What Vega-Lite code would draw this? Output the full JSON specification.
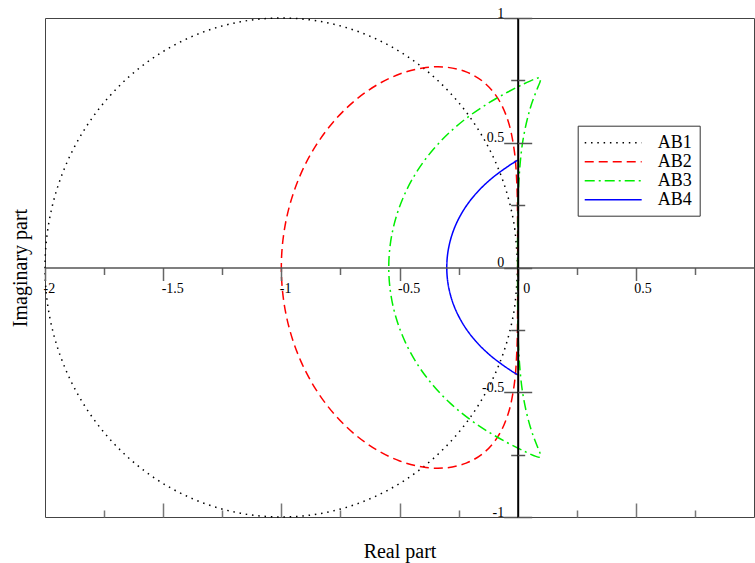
{
 "$schema": "https://vega.github.io/schema/vega-lite/v6.json",
 "width": 709, "height": 499,
 "autosize": {"type": "none"},
 "padding": {"left": 45, "top": 18, "right": 1, "bottom": 46},
 "background": "white",
 "config": {
  "view": {"stroke": "#444", "strokeWidth": 1},
  "axis": {"grid": false, "labelFont": "Liberation Serif", "titleFont": "Liberation Serif"},
  "font": "Liberation Serif"
 },
 "resolve": {"axis": {"x": "independent", "y": "independent"}},
 "layer": [
  {
   "data": {"values": [
    {"s":"AB1","i":0,"x":0,"y":0},{"s":"AB1","i":1,"x":-0.0152,"y":0.1736},{"s":"AB1","i":2,"x":-0.0603,"y":0.342},{"s":"AB1","i":3,"x":-0.134,"y":0.5},{"s":"AB1","i":4,"x":-0.234,"y":0.6428},{"s":"AB1","i":5,"x":-0.3572,"y":0.766},{"s":"AB1","i":6,"x":-0.5,"y":0.866},{"s":"AB1","i":7,"x":-0.658,"y":0.9397},{"s":"AB1","i":8,"x":-0.8264,"y":0.9848},{"s":"AB1","i":9,"x":-1,"y":1},{"s":"AB1","i":10,"x":-1.1736,"y":0.9848},{"s":"AB1","i":11,"x":-1.342,"y":0.9397},{"s":"AB1","i":12,"x":-1.5,"y":0.866},{"s":"AB1","i":13,"x":-1.6428,"y":0.766},{"s":"AB1","i":14,"x":-1.766,"y":0.6428},{"s":"AB1","i":15,"x":-1.866,"y":0.5},{"s":"AB1","i":16,"x":-1.9397,"y":0.342},{"s":"AB1","i":17,"x":-1.9848,"y":0.1736},{"s":"AB1","i":18,"x":-2,"y":0},{"s":"AB1","i":19,"x":-1.9848,"y":-0.1736},{"s":"AB1","i":20,"x":-1.9397,"y":-0.342},{"s":"AB1","i":21,"x":-1.866,"y":-0.5},{"s":"AB1","i":22,"x":-1.766,"y":-0.6428},{"s":"AB1","i":23,"x":-1.6428,"y":-0.766},{"s":"AB1","i":24,"x":-1.5,"y":-0.866},{"s":"AB1","i":25,"x":-1.342,"y":-0.9397},{"s":"AB1","i":26,"x":-1.1736,"y":-0.9848},{"s":"AB1","i":27,"x":-1,"y":-1},{"s":"AB1","i":28,"x":-0.8264,"y":-0.9848},{"s":"AB1","i":29,"x":-0.658,"y":-0.9397},{"s":"AB1","i":30,"x":-0.5,"y":-0.866},{"s":"AB1","i":31,"x":-0.3572,"y":-0.766},{"s":"AB1","i":32,"x":-0.234,"y":-0.6428},{"s":"AB1","i":33,"x":-0.134,"y":-0.5},{"s":"AB1","i":34,"x":-0.0603,"y":-0.342},{"s":"AB1","i":35,"x":-0.0152,"y":-0.1736},{"s":"AB1","i":36,"x":0,"y":0},
    {"s":"AB2","i":0,"x":0,"y":0},{"s":"AB2","i":1,"x":-0.0002,"y":0.1724},{"s":"AB2","i":2,"x":-0.0033,"y":0.3326},{"s":"AB2","i":3,"x":-0.0149,"y":0.4721},{"s":"AB2","i":4,"x":-0.0405,"y":0.5871},{"s":"AB2","i":5,"x":-0.0831,"y":0.677},{"s":"AB2","i":6,"x":-0.1429,"y":0.7423},{"s":"AB2","i":7,"x":-0.2179,"y":0.7841},{"s":"AB2","i":8,"x":-0.3049,"y":0.8031},{"s":"AB2","i":9,"x":-0.4,"y":0.8},{"s":"AB2","i":10,"x":-0.499,"y":0.7755},{"s":"AB2","i":11,"x":-0.5978,"y":0.7304},{"s":"AB2","i":12,"x":-0.6923,"y":0.6662},{"s":"AB2","i":13,"x":-0.7791,"y":0.5844},{"s":"AB2","i":14,"x":-0.8547,"y":0.4873},{"s":"AB2","i":15,"x":-0.9166,"y":0.3772},{"s":"AB2","i":16,"x":-0.9624,"y":0.2572},{"s":"AB2","i":17,"x":-0.9905,"y":0.1303},{"s":"AB2","i":18,"x":-1,"y":0},{"s":"AB2","i":19,"x":-0.9905,"y":-0.1303},{"s":"AB2","i":20,"x":-0.9624,"y":-0.2572},{"s":"AB2","i":21,"x":-0.9166,"y":-0.3772},{"s":"AB2","i":22,"x":-0.8547,"y":-0.4873},{"s":"AB2","i":23,"x":-0.7791,"y":-0.5844},{"s":"AB2","i":24,"x":-0.6923,"y":-0.6662},{"s":"AB2","i":25,"x":-0.5978,"y":-0.7304},{"s":"AB2","i":26,"x":-0.499,"y":-0.7755},{"s":"AB2","i":27,"x":-0.4,"y":-0.8},{"s":"AB2","i":28,"x":-0.3049,"y":-0.8031},{"s":"AB2","i":29,"x":-0.2179,"y":-0.7841},{"s":"AB2","i":30,"x":-0.1429,"y":-0.7423},{"s":"AB2","i":31,"x":-0.0831,"y":-0.677},{"s":"AB2","i":32,"x":-0.0405,"y":-0.5871},{"s":"AB2","i":33,"x":-0.0149,"y":-0.4721},{"s":"AB2","i":34,"x":-0.0033,"y":-0.3326},{"s":"AB2","i":35,"x":-0.0002,"y":-0.1724},{"s":"AB2","i":36,"x":0,"y":0},
    {"s":"AB3","i":0,"x":0,"y":0},{"s":"AB3","i":1,"x":0.0003,"y":0.1745},{"s":"AB3","i":2,"x":0.0051,"y":0.347},{"s":"AB3","i":3,"x":0.0221,"y":0.5083},{"s":"AB3","i":4,"x":0.0535,"y":0.6396},{"s":"AB3","i":5,"x":0.0856,"y":0.7229},{"s":"AB3","i":6,"x":0.0951,"y":0.7455},{"s":"AB3","i":7,"x":0.0972,"y":0.7573},{"s":"AB3","i":8,"x":0.0911,"y":0.7604},{"s":"AB3","i":9,"x":0.0768,"y":0.7569},{"s":"AB3","i":10,"x":0.0275,"y":0.7364},{"s":"AB3","i":11,"x":-0.0414,"y":0.7034},{"s":"AB3","i":12,"x":-0.1207,"y":0.6606},{"s":"AB3","i":13,"x":-0.2032,"y":0.6081},{"s":"AB3","i":14,"x":-0.2835,"y":0.5455},{"s":"AB3","i":15,"x":-0.3574,"y":0.473},{"s":"AB3","i":16,"x":-0.422,"y":0.3912},{"s":"AB3","i":17,"x":-0.4746,"y":0.3011},{"s":"AB3","i":18,"x":-0.5135,"y":0.2046},{"s":"AB3","i":19,"x":-0.5374,"y":0.1035},{"s":"AB3","i":20,"x":-0.5455,"y":0},{"s":"AB3","i":21,"x":-0.5374,"y":-0.1035},{"s":"AB3","i":22,"x":-0.5135,"y":-0.2046},{"s":"AB3","i":23,"x":-0.4746,"y":-0.3011},{"s":"AB3","i":24,"x":-0.422,"y":-0.3912},{"s":"AB3","i":25,"x":-0.3574,"y":-0.473},{"s":"AB3","i":26,"x":-0.2835,"y":-0.5455},{"s":"AB3","i":27,"x":-0.2032,"y":-0.6081},{"s":"AB3","i":28,"x":-0.1207,"y":-0.6606},{"s":"AB3","i":29,"x":-0.0414,"y":-0.7034},{"s":"AB3","i":30,"x":0.0275,"y":-0.7364},{"s":"AB3","i":31,"x":0.0768,"y":-0.7569},{"s":"AB3","i":32,"x":0.0911,"y":-0.7604},{"s":"AB3","i":33,"x":0.0972,"y":-0.7573},{"s":"AB3","i":34,"x":0.0951,"y":-0.7455},{"s":"AB3","i":35,"x":0.0856,"y":-0.7229},{"s":"AB3","i":36,"x":0.0535,"y":-0.6396},{"s":"AB3","i":37,"x":0.0221,"y":-0.5083},{"s":"AB3","i":38,"x":0.0051,"y":-0.347},{"s":"AB3","i":39,"x":0.0003,"y":-0.1745},{"s":"AB3","i":40,"x":0,"y":0},
    {"s":"AB4","i":0,"x":0,"y":0.43},{"s":"AB4","i":1,"x":-0.0319,"y":0.4112},{"s":"AB4","i":2,"x":-0.1116,"y":0.3557},{"s":"AB4","i":3,"x":-0.1782,"y":0.2944},{"s":"AB4","i":4,"x":-0.2309,"y":0.227},{"s":"AB4","i":5,"x":-0.2691,"y":0.1545},{"s":"AB4","i":6,"x":-0.2922,"y":0.0782},{"s":"AB4","i":7,"x":-0.3,"y":0},{"s":"AB4","i":8,"x":-0.2922,"y":-0.0782},{"s":"AB4","i":9,"x":-0.2691,"y":-0.1545},{"s":"AB4","i":10,"x":-0.2309,"y":-0.227},{"s":"AB4","i":11,"x":-0.1782,"y":-0.2944},{"s":"AB4","i":12,"x":-0.1116,"y":-0.3557},{"s":"AB4","i":13,"x":-0.0319,"y":-0.4112},{"s":"AB4","i":14,"x":0,"y":-0.43}
   ]},
   "mark": {"type": "line", "strokeWidth": 1.5, "interpolate": "catmull-rom"},
   "encoding": {
    "x": {"field": "x", "type": "quantitative", "scale": {"domain": [-2, 1], "nice": false, "zero": false},
     "axis": {"orient": "bottom", "offset": -249.5, "title": null,
      "values": [-2, -1.75, -1.5, -1.25, -1, -0.75, -0.5, -0.25, 0, 0.25, 0.5, 0.75],
      "labelExpr": "abs(datum.value*2-round(datum.value*2))<0.001 ? ''+datum.value : ''",
      "labelAlign": "left", "labelBaseline": "top", "labelPadding": 1,
      "labelOffset": {"condition": {"test": "datum.value==0", "value": 5}, "value": -2},
      "labelFont": "Liberation Serif", "labelFontSize": 14, "labelColor": "#000",
      "labelFlush": false, "labelOverlap": false, "labelBound": false,
      "tickColor": "#666", "tickWidth": 1.5,
      "tickSize": {"condition": {"test": "abs(datum.value*2-round(datum.value*2))<0.001", "value": 13}, "value": 7},
      "domainColor": "#555", "domainWidth": 1.5, "zindex": 1}},
    "y": {"field": "y", "type": "quantitative", "scale": {"domain": [-1, 1], "nice": false, "zero": false},
     "axis": {"orient": "left", "offset": -472.7, "title": null,
      "values": [-1, -0.75, -0.5, -0.25, 0, 0.25, 0.5, 0.75, 1],
      "labelExpr": "abs(datum.value*2-round(datum.value*2))<0.001 ? ''+datum.value : ''",
      "labelAlign": "right", "labelBaseline": "alphabetic", "labelPadding": 0, "labelOffset": -1,
      "labelFont": "Liberation Serif", "labelFontSize": 14, "labelColor": "#000",
      "labelFlush": false, "labelOverlap": false, "labelBound": false,
      "tickColor": "#555", "tickWidth": 1.5,
      "tickSize": {"condition": {"test": "abs(datum.value*2-round(datum.value*2))<0.001", "value": 14}, "value": 7},
      "domainColor": "#000", "domainWidth": 2, "zindex": 2}},
    "color": {"field": "s", "type": "nominal",
     "scale": {"domain": ["AB1", "AB2", "AB3", "AB4"], "range": ["#000000", "#ff0000", "#00ee00", "#0000ff"]},
     "legend": {"orient": "none", "legendX": 532.7, "legendY": 107.7, "title": null,
      "symbolType": "M-3.08,0H3.08", "symbolSize": 342, "symbolStrokeWidth": 1.5,
      "symbolOffset": 18.5, "labelOffset": 34.5,
      "labelFont": "Liberation Serif", "labelFontSize": 18, "labelColor": "#000",
      "padding": 7, "rowPadding": 0, "strokeColor": "#333", "fillColor": "#fff"}},
    "strokeDash": {"field": "s", "type": "nominal",
     "scale": {"domain": ["AB1", "AB2", "AB3", "AB4"], "range": [[1.5, 4.8], [9, 5], [10, 4, 2, 4], [1, 0]]},
     "legend": {"orient": "none", "legendX": 532.7, "legendY": 107.7, "title": null,
      "symbolType": "M-3.08,0H3.08", "symbolSize": 342, "symbolStrokeWidth": 1.5,
      "symbolOffset": 18.5, "labelOffset": 34.5,
      "labelFont": "Liberation Serif", "labelFontSize": 18, "labelColor": "#000",
      "padding": 7, "rowPadding": 0, "strokeColor": "#333", "fillColor": "#fff"}},
    "order": {"field": "i", "type": "quantitative"}
   }
  },
  {
   "data": {"values": [{"x": 0, "y": 0}]},
   "mark": {"type": "point", "opacity": 0},
   "encoding": {
    "x": {"field": "x", "type": "quantitative", "scale": {"domain": [-2, 1], "nice": false, "zero": false},
     "axis": {"orient": "top", "offset": -499, "title": null, "labels": false, "domain": false,
      "values": [-1.75, -1.5, -1.25, -1, -0.75, -0.5, -0.25, 0.25, 0.5, 0.75],
      "tickColor": "#777", "tickWidth": 1.5,
      "tickSize": {"condition": {"test": "abs(datum.value*2-round(datum.value*2))<0.001", "value": 14}, "value": 7}}},
    "y": {"field": "y", "type": "quantitative", "scale": {"domain": [-1, 1], "nice": false, "zero": false},
     "axis": {"orient": "right", "offset": -236.3, "title": null, "labels": false, "domain": false,
      "values": [-1, -0.75, -0.5, -0.25, 0, 0.25, 0.5, 0.75, 1],
      "tickColor": "#555", "tickWidth": 1.5, "zindex": 2,
      "tickSize": {"condition": {"test": "abs(datum.value*2-round(datum.value*2))<0.001", "value": 14}, "value": 7}}}
   }
  },
  {
   "data": {"values": [{"x": 0, "y": 0}]},
   "mark": {"type": "point", "opacity": 0},
   "encoding": {
    "x": {"field": "x", "type": "quantitative", "scale": {"domain": [-2, 1], "nice": false, "zero": false},
     "axis": {"orient": "bottom", "title": "Real part", "labels": false, "ticks": false, "domain": false,
      "titleFont": "Liberation Serif", "titleFontSize": 20, "titleFontWeight": "normal", "titleColor": "#000",
      "titleBaseline": "alphabetic", "titlePadding": 40}},
    "y": {"field": "y", "type": "quantitative", "scale": {"domain": [-1, 1], "nice": false, "zero": false},
     "axis": {"orient": "left", "title": "Imaginary part", "labels": false, "ticks": false, "domain": false,
      "titleFont": "Liberation Serif", "titleFontSize": 20, "titleFontWeight": "normal", "titleColor": "#000",
      "titleBaseline": "alphabetic", "titlePadding": 19}}
   }
  }
 ]
}
